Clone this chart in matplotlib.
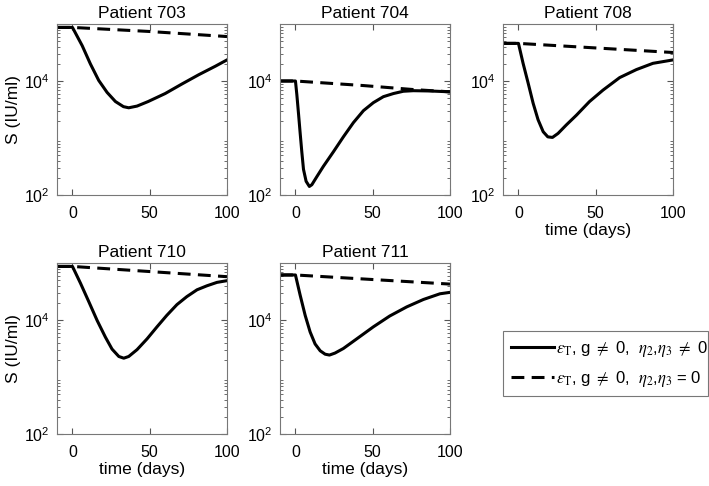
import numpy as np
import matplotlib
matplotlib.use('Agg')
import matplotlib.pyplot as plt
from matplotlib.ticker import LogLocator, NullFormatter

plt.rcParams['font.family'] = ['Liberation Sans', 'DejaVu Sans']
plt.rcParams['mathtext.fontset'] = 'stix'

# values, as log10 of S (IU/ml)
patients = ['703', '704', '708', '710', '711']

days_703 = [-10, 0, 6.3, 11.6, 17, 22.4, 27.8, 33, 36.4, 41.8, 49, 60, 71, 81.7, 92.5, 100]
solid_703 = [4.94, 4.94, 4.62, 4.30, 4.01, 3.80, 3.64, 3.55, 3.53, 3.56, 3.64, 3.78, 3.95, 4.11, 4.26, 4.37]
dash_days_703 = [-10, 0, 49, 100]
dash_703 = [4.94, 4.94, 4.87, 4.78]

days_704 = [-10, 0, 0.9, 2, 3, 4.1, 5.2, 6.9, 9, 10.6, 13.8, 18, 24.6, 31, 37.5, 44,
            50.4, 56.9, 63.4, 69.8, 76.3, 87, 100]
solid_704 = [4.0, 4.0, 3.76, 3.42, 3.10, 2.76, 2.45, 2.24, 2.15, 2.18, 2.32, 2.50, 2.76, 3.02, 3.27, 3.48,
             3.62, 3.725, 3.78, 3.82, 3.83, 3.825, 3.81]
dash_days_704 = [-10, 0, 44, 76.3, 100]
dash_704 = [4.0, 4.0, 3.92, 3.85, 3.81]

days_708 = [-10, 0, 3, 6.3, 9.5, 12.7, 16, 19, 22, 25.6, 31, 37.5, 46, 54.7, 65.5, 76.3, 87, 100]
solid_708 = [4.66, 4.66, 4.31, 3.96, 3.61, 3.32, 3.11, 3.02, 3.01, 3.08, 3.23, 3.40, 3.64, 3.84, 4.06, 4.20, 4.31, 4.37]
dash_days_708 = [-10, 0, 50, 100]
dash_708 = [4.66, 4.66, 4.58, 4.50]

days_710 = [-10, 0, 5.2, 10.6, 16, 21.3, 25.6, 30, 33.2, 36.4, 41.8, 48.3, 54.7, 61, 67.6, 74,
            80.6, 87, 93.5, 100]
solid_710 = [4.94, 4.94, 4.645, 4.32, 3.99, 3.70, 3.49, 3.36, 3.33, 3.36, 3.48, 3.67, 3.88, 4.08, 4.27, 4.41,
             4.53, 4.60, 4.66, 4.69]
dash_days_710 = [-10, 0, 50, 100]
dash_710 = [4.94, 4.94, 4.85, 4.76]

days_711 = [-10, 0, 3, 6.3, 9.5, 12.7, 16, 19.2, 22, 25.6, 31, 39.7, 50.4, 61, 72, 82.8, 93.5, 100]
solid_711 = [4.79, 4.79, 4.44, 4.08, 3.79, 3.58, 3.46, 3.40, 3.385, 3.42, 3.50, 3.67, 3.88, 4.07, 4.23, 4.36, 4.46, 4.485]
dash_days_711 = [-10, 0, 50, 100]
dash_711 = [4.79, 4.79, 4.71, 4.63]

solid_days = [days_703, days_704, days_708, days_710, days_711]
solid_vals = [solid_703, solid_704, solid_708, solid_710, solid_711]
dash_days = [dash_days_703, dash_days_704, dash_days_708, dash_days_710, dash_days_711]
dash_vals = [dash_703, dash_704, dash_708, dash_710, dash_711]

label_solid = r'$\epsilon_{\mathrm{T}}$, g $\neq$ 0,  $\eta_2$,$\eta_3$ $\neq$ 0'
label_dash = r'$\epsilon_{\mathrm{T}}$, g $\neq$ 0,  $\eta_2$,$\eta_3$ = 0'

fig = plt.figure(figsize=(7.09, 4.86), dpi=100)
W, H = 709.0, 486.0
boxes = [(57, 24), (280, 24), (503, 24), (57, 263), (280, 263)]
axw, axh = 170, 171

for i, (x0, y0) in enumerate(boxes):
    ax = fig.add_axes([x0 / W, 1 - (y0 + axh) / H, axw / W, axh / H])
    ax.semilogy(solid_days[i], 10 ** np.array(solid_vals[i]), '-', color='black', lw=2.2,
                solid_joinstyle='round', label=label_solid)
    ax.semilogy(dash_days[i], 10 ** np.array(dash_vals[i]), '--', color='black', lw=2.2,
                dashes=(4.2, 2.4), label=label_dash)
    ax.set_xlim(-10, 100)
    ax.set_ylim(1e2, 1e5)
    ax.set_xticks([0, 50, 100])
    ax.set_yticks([1e2, 1e4])
    ax.yaxis.set_minor_locator(LogLocator(base=10, subs=np.arange(2, 10), numticks=20))
    ax.yaxis.set_minor_formatter(NullFormatter())
    ax.tick_params(direction='in', which='both', top=True, right=True, labelsize=11.5,
                   color='#555555')
    ax.tick_params(axis='x', pad=8)
    ax.tick_params(axis='y', pad=5)
    ax.tick_params(which='major', length=4)
    ax.tick_params(which='minor', length=2)
    for s in ax.spines.values():
        s.set_color('#777777')
        s.set_linewidth(0.8)
    ax.set_title('Patient ' + patients[i], fontsize=12.5, pad=4)
    if i in (0, 3):
        ax.set_ylabel('S (IU/ml)', fontsize=12.5, labelpad=2)
    if i in (2, 3, 4):
        ax.set_xlabel('time (days)', fontsize=12.5, labelpad=1)
    if i == 0:
        handles, labels = ax.get_legend_handles_labels()

leg = fig.legend(handles, labels, loc='upper left',
                 bbox_to_anchor=(503 / W, 1 - 393 / H, 205 / W, 62 / H),
                 mode='expand', fontsize=12, handlelength=2.6, handletextpad=0.1,
                 borderaxespad=0, borderpad=0.45, labelspacing=0.6, fancybox=False, framealpha=1)
leg.get_frame().set_edgecolor('#777777')
leg.get_frame().set_linewidth(0.8)

fig.savefig('out.png', dpi=100)
